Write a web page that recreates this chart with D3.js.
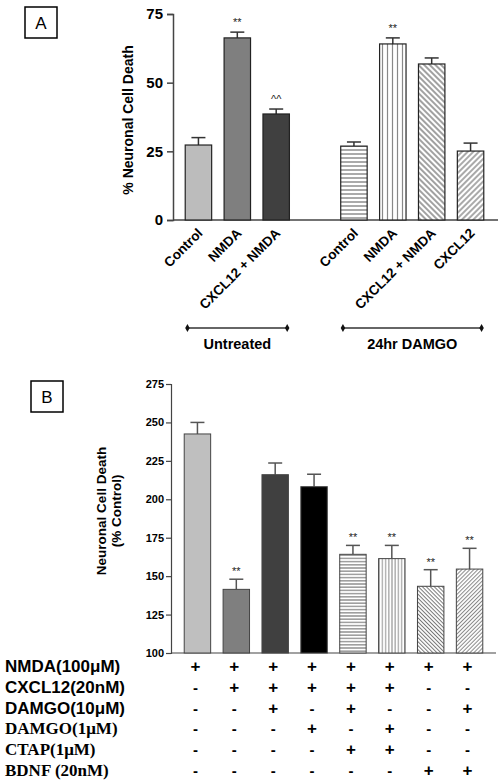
<!DOCTYPE html>
<html><head><meta charset="utf-8">
<script src="https://cdn.jsdelivr.net/npm/d3@7"></script>
<style>
body{margin:0;background:#fff;}
svg{display:block;}
</style></head>
<body>
<svg id="chart" width="502" height="782" font-family="Liberation Sans, Arial, sans-serif"></svg>
<script>
// ---------- Data: Panel A ----------
const categoriesA = ["U-Control","U-NMDA","U-CXCL12+NMDA","gap","D-Control","D-NMDA","D-CXCL12+NMDA","D-CXCL12"];
const labelsA = ["Control","NMDA","CXCL12 + NMDA","","Control","NMDA","CXCL12 + NMDA","CXCL12"];
const valuesA = [27.3, 66.3, 38.6, null, 26.9, 64.1, 56.8, 25.1];
const errorsA = [2.7, 2.1, 1.8, null, 1.5, 2.2, 2.2, 2.9];
const sigA = ["", "**", "^^", "", "", "**", "", ""];
const fillsA = ["#bcbcbc","#7f7f7f","#404040","", "url(#hA)","url(#vA)","url(#bsA)","url(#fsA)"];
const ticksA = [0, 25, 50, 75];
const groupsA = [{label:"Untreated", from:"U-Control", to:"U-CXCL12+NMDA"},
                 {label:"24hr DAMGO", from:"D-Control", to:"D-CXCL12"}];

// ---------- Data: Panel B ----------
const categoriesB = ["b1","b2","b3","b4","b5","b6","b7","b8"];
const valuesB = [242.5, 141.4, 216.0, 208.2, 164.2, 161.4, 143.4, 154.6];
const errorsB = [7.5, 6.6, 7.6, 8.1, 5.8, 8.6, 10.8, 13.5];
const sigB = ["", "**", "", "", "**", "**", "**", "**"];
const fillsB = ["#bfbfbf","#7f7f7f","#404040","#000000","url(#hB)","url(#vB)","url(#bsB)","url(#fsB)"];
const ticksB = [100,125,150,175,200,225,250,275];
const rowLabels = ["NMDA(100\u03bcM)","CXCL12(20nM)","DAMGO(10\u03bcM)","DAMGO(1\u03bcM)","CTAP(1\u03bcM)","BDNF (20nM)"];
const rowSerif = [false,false,false,true,true,true];
const rowSigns = ["++++++++","-+++++--","--+-+--+","---+-+--","----++--","------++"];

const SANS = "Liberation Sans, Arial, sans-serif";
const SERIF = "Liberation Serif, Times New Roman, serif";
const svg = d3.select("#chart");
const defs = svg.append("defs");
function linePattern(id, size, angle, color, w){
  const p = defs.append("pattern").attr("id",id).attr("patternUnits","userSpaceOnUse")
    .attr("width",size).attr("height",size).attr("patternTransform",`rotate(${angle})`);
  p.append("rect").attr("width",size).attr("height",size).attr("fill","#fff");
  p.append("line").attr("x1",0).attr("y1",size/2).attr("x2",size).attr("y2",size/2)
    .attr("stroke",color).attr("stroke-width",w);
}
linePattern("hA",4,0,"#555",1);
linePattern("vA",5,90,"#888",1.2);
linePattern("bsA",4,45,"#444",1);
linePattern("fsA",4,-45,"#555",1);
linePattern("hB",3.2,0,"#666",1);
linePattern("vB",3.2,90,"#888",1);
linePattern("bsB",2.8,45,"#777",1);
linePattern("fsB",2.8,-45,"#888",1);

// ---------- Panel A ----------
const xA = d3.scaleBand().domain(categoriesA).range([179,490]).paddingInner(0.32).paddingOuter(0.16);
const yA = d3.scaleLinear().domain([0,75]).range([220,14]);
const gA = svg.append("g");

gA.append("rect").attr("x",25).attr("y",7).attr("width",32).attr("height",31).attr("fill","none").attr("stroke","#000").attr("stroke-width",1.5);
gA.append("text").attr("x",41).attr("y",29).attr("text-anchor","middle").attr("font-size",17).text("A");

const axA = gA.append("g").attr("transform","translate(173,0)")
  .call(d3.axisLeft(yA).tickValues(ticksA).tickSize(6).tickPadding(4));
axA.select(".domain").attr("stroke","#444").attr("stroke-width",1.5);
axA.selectAll(".tick line").attr("stroke","#444").attr("stroke-width",1.5);
axA.selectAll(".tick text").attr("font-size",15).attr("font-weight","bold").attr("fill","#000").style("font-family",SANS);
gA.append("line").attr("x1",173).attr("x2",498).attr("y1",yA(0)).attr("y2",yA(0)).attr("stroke","#444").attr("stroke-width",1.5);

gA.append("text").attr("transform",`translate(133,${(yA(0)+yA(75))/2+3}) rotate(-90)`)
  .attr("text-anchor","middle").attr("font-size",14).attr("font-weight","bold").text("% Neuronal Cell Death");

categoriesA.forEach((c,i)=>{
  if(valuesA[i]==null) return;
  const x0 = xA(c), bw = xA.bandwidth(), cx = x0+bw/2;
  gA.append("line").attr("x1",cx).attr("x2",cx).attr("y1",yA(valuesA[i])).attr("y2",yA(valuesA[i]+errorsA[i])).attr("stroke","#333").attr("stroke-width",1.5);
  gA.append("line").attr("x1",cx-7).attr("x2",cx+7).attr("y1",yA(valuesA[i]+errorsA[i])).attr("y2",yA(valuesA[i]+errorsA[i])).attr("stroke","#333").attr("stroke-width",1.5);
  gA.append("rect").attr("x",x0).attr("y",yA(valuesA[i])).attr("width",bw).attr("height",yA(0)-yA(valuesA[i]))
    .attr("fill",fillsA[i]).attr("stroke","#222").attr("stroke-width",1.2);
  if(sigA[i]) gA.append("text").attr("x",cx).attr("y",yA(valuesA[i]+errorsA[i])-6).attr("text-anchor","middle")
    .attr("font-size",11).attr("fill","#222").text(sigA[i]);
  gA.append("text").attr("transform",`translate(${cx+5},${yA(0)+14}) rotate(-45)`)
    .attr("text-anchor","end").attr("font-size",13.5).attr("font-weight","bold").text(labelsA[i]);
});

groupsA.forEach(g=>{
  const x1 = xA(g.from)+xA.bandwidth()/2-11, x2 = xA(g.to)+xA.bandwidth()/2+11;
  gA.append("line").attr("x1",x1).attr("x2",x2).attr("y1",328).attr("y2",328).attr("stroke","#333").attr("stroke-width",1.5);
  [x1,x2].forEach(xx=>gA.append("path").attr("d",d3.symbol(d3.symbolDiamond,18)()).attr("transform",`translate(${xx},328)`).attr("fill","#111"));
  gA.append("text").attr("x",(x1+x2)/2).attr("y",349).attr("text-anchor","middle").attr("font-size",14.5).attr("font-weight","bold").text(g.label);
});

// ---------- Panel B ----------
const xB = d3.scaleBand().domain(categoriesB).range([178,489]).paddingInner(0.32).paddingOuter(0.16);
const yB = d3.scaleLinear().domain([100,275]).range([653,384]);
const gB = svg.append("g");

gB.append("rect").attr("x",31).attr("y",381).attr("width",32).attr("height",31).attr("fill","none").attr("stroke","#000").attr("stroke-width",1.5);
gB.append("text").attr("x",47).attr("y",403).attr("text-anchor","middle").attr("font-size",17).text("B");

const axB = gB.append("g").attr("transform","translate(171,0)")
  .call(d3.axisLeft(yB).tickValues(ticksB).tickSize(5).tickPadding(2));
axB.select(".domain").attr("stroke","#444").attr("stroke-width",1.2);
axB.selectAll(".tick line").attr("stroke","#444").attr("stroke-width",1.2);
axB.selectAll(".tick text").attr("font-size",11).attr("font-weight","bold").attr("fill","#000").style("font-family",SANS);
gB.append("line").attr("x1",171).attr("x2",496).attr("y1",yB(100)).attr("y2",yB(100)).attr("stroke","#444").attr("stroke-width",1.2);

gB.append("text").attr("transform",`translate(106,511) rotate(-90)`).attr("text-anchor","middle")
  .attr("font-size",13.5).attr("font-weight","bold").text("Neuronal Cell Death");
gB.append("text").attr("transform",`translate(121,511) rotate(-90)`).attr("text-anchor","middle")
  .attr("font-size",13.5).attr("font-weight","bold").text("(% Control)");

categoriesB.forEach((c,i)=>{
  const x0 = xB(c), bw = xB.bandwidth(), cx = x0+bw/2;
  gB.append("line").attr("x1",cx).attr("x2",cx).attr("y1",yB(valuesB[i])).attr("y2",yB(valuesB[i]+errorsB[i])).attr("stroke","#555").attr("stroke-width",1.5);
  gB.append("line").attr("x1",cx-7).attr("x2",cx+7).attr("y1",yB(valuesB[i]+errorsB[i])).attr("y2",yB(valuesB[i]+errorsB[i])).attr("stroke","#555").attr("stroke-width",1.5);
  gB.append("rect").attr("x",x0).attr("y",yB(valuesB[i])).attr("width",bw).attr("height",yB(100)-yB(valuesB[i]))
    .attr("fill",fillsB[i]).attr("stroke","#444").attr("stroke-width",1);
  if(sigB[i]) gB.append("text").attr("x",cx).attr("y",yB(valuesB[i]+errorsB[i])-4).attr("text-anchor","middle")
    .attr("font-size",11).attr("fill","#222").text(sigB[i]);
});

// treatment table
rowLabels.forEach((lab,r)=>{
  const y = 672 + r*20.8;
  gB.append("text").attr("x",5).attr("y",y).attr("font-size",17).attr("font-weight","bold")
    .style("font-family", rowSerif[r] ? SERIF : SANS)
    .text(lab);
  rowSigns[r].split("").forEach((s,i)=>{
    const cx = xB(categoriesB[i])+xB.bandwidth()/2;
    gB.append("text").attr("x",cx-2).attr("y",y).attr("text-anchor","middle")
      .attr("font-size",s==="+"?17:15).attr("font-weight","bold").text(s);
  });
});
</script>
</body></html>
